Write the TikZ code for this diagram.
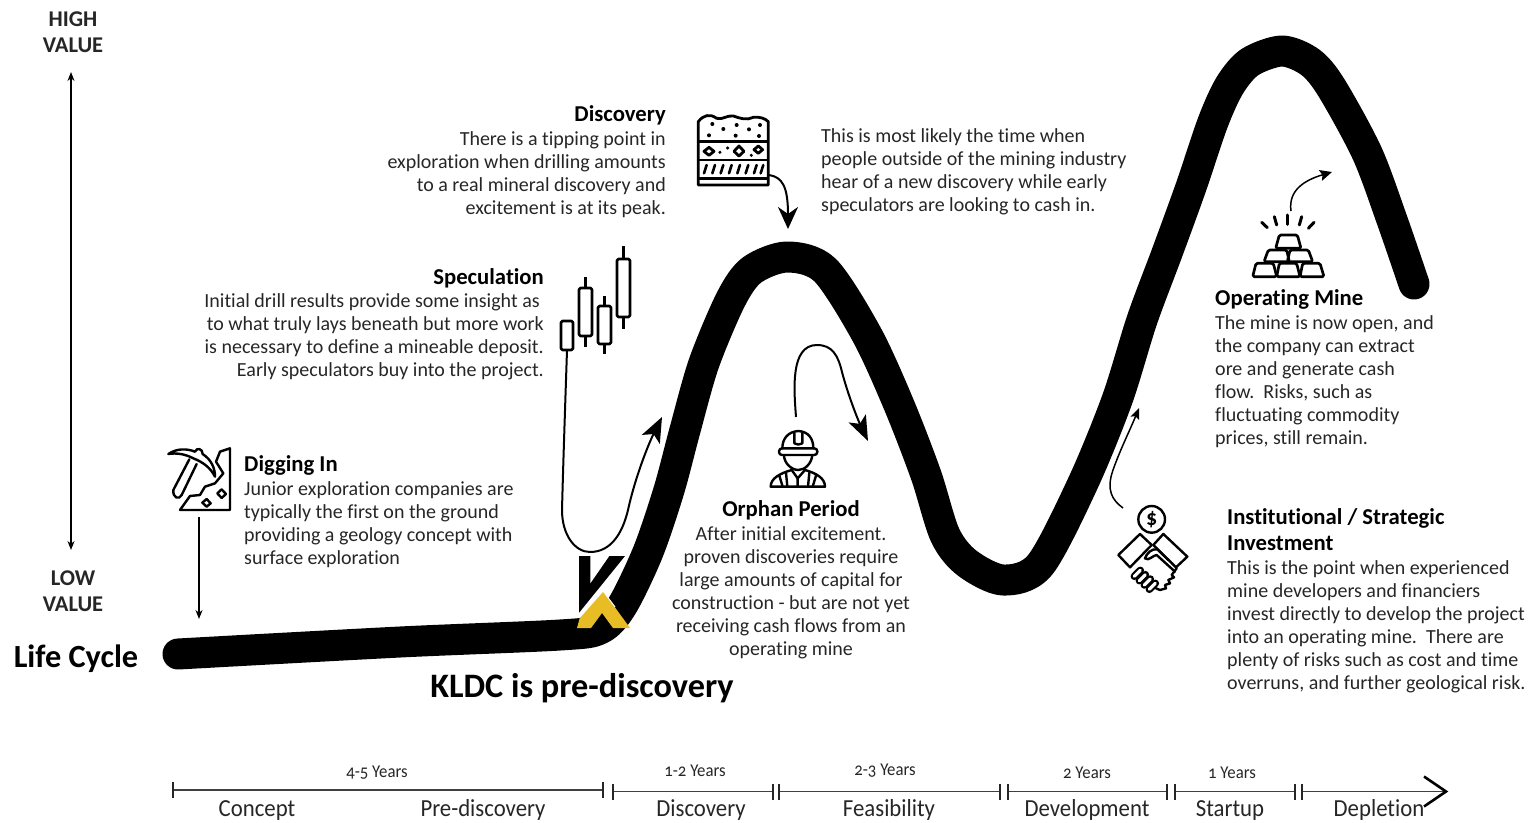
\documentclass[tikz,border=0pt]{standalone}
\usepackage{fontspec}
\setmainfont[Numbers=OldStyle,Ligatures=NoCommon]{Carlito}
\usetikzlibrary{arrows.meta}
\newcommand{\condensed}[1]{\scalebox{.93}[1]{#1}}
\tikzset{
  body/.style={inner sep=0pt,font=\fontsize{20}{23}\selectfont,text=black!85},
  ttl/.style={inner sep=0pt,font=\fontsize{22.7}{26}\bfseries\selectfont},
  val/.style={inner sep=0pt,align=center,font=\fontsize{22.5}{26.5}\bfseries\selectfont,text=black!85},
  yrs/.style={inner sep=0pt,anchor=base,font=\fontsize{18}{18}\selectfont,text=black!85},
  phase/.style={inner sep=0pt,anchor=base,font=\fontsize{24.5}{26}\selectfont,text=black!85},
  icon/.style={line width=2.4pt,line join=round,line cap=round},
  lead/.style={line width=1.3pt},
  bar/.style={line width=1.7pt,black!75},
  tick/.style={line width=2pt,black!85},
}
\begin{document}
\begin{tikzpicture}[x=1pt,y=-1pt]
\useasboundingbox (0,0) rectangle (1530,822);
% main life-cycle curve
\draw[line width=31pt,line cap=round,line join=round]
  plot[smooth,tension=0.5] coordinates {(178,654) (400,642) (560,635) (600,629) (622,606) (648,552) (669,490) (685,430) (704,363) (731,299) (752,270) (787,257) (825,270) (867,335) (899,405) (926,475) (945,535) (967,563) (1003,580) (1040,565) (1083,483) (1117,400) (1142,320) (1167,253) (1191,187) (1213,122) (1230,85) (1250,62) (1282,51) (1310,62) (1331,87) (1367,153) (1392,220) (1414,284)};
% K logo
\fill[draw=white,line width=1.5pt] (578,555)--(591,555)--(591,581)--(609,555)--(627,555)--(580,613)--(578,615)--cycle;
\fill[fill={rgb,255:red,232;green,188;blue,36}] (603,591)--(630,628)--(613,628)--(602,613)--(591,628)--(577,628)--(580,617)--cycle;
\draw[white,line width=1pt] (580,617)--(603,591)--(615,607);
% value axis
\coordinate (hi) at (71,72);
\coordinate (lo) at (71,550);
\draw[lead,{Stealth[length=9pt,width=7pt]}-{Stealth[length=9pt,width=7pt]}] (hi)--(lo);
\node[val] (high) at (73,32) {HIGH\\VALUE};
\node[val] (low) at (73,591) {LOW\\VALUE};
\node[inner sep=0pt,font=\fontsize{32.3}{34}\bfseries\selectfont] (life) at (76,658.5) {Life Cycle};
\node[inner sep=0pt,font=\fontsize{34.3}{38}\bfseries\selectfont] (kldc) at (582,688) {KLDC is pre-discovery};
% Digging in
\node[ttl,anchor=west] (digT) at (244,465.5) {Digging In};
\node[body,anchor=north west,align=left] (digB) at (244,481) {Junior exploration companies are\\typically the first on the ground\\providing a geology concept with\\surface exploration};
\begin{scope}[shift={(150,430)},x=0.3333pt,y=-0.3333pt]
\draw[icon] (90,240)--(240,240)--(240,55)--(210,65)--(198,95)--(220,130)--(195,160)--(165,170)--(150,195)--(120,198)--cycle;
\draw[icon] (55,72) .. controls (80,55) and (110,55) .. (135,65) .. controls (140,52) and (158,55) .. (158,72) .. controls (185,90) and (195,115) .. (195,140) .. controls (180,110) and (155,95) .. (130,85) .. controls (105,72) and (80,68) .. (55,72) -- cycle;
\draw[icon] (118,88) -- (70,180) .. controls (68,205) and (88,210) .. (95,195) -- (140,102);
\draw[icon] (170,207)--(182,220)--(170,230)--(157,218)--cycle;
\draw[icon] (215,178)--(228,192)--(215,204)--(202,190)--cycle;
\end{scope}
\coordinate (digS) at (199,517);
\coordinate (digE) at (199,619);
\draw[lead,-{Stealth[length=9pt,width=7pt]}] (digS)--(digE);
% Speculation
\node[ttl,anchor=east] (spT) at (544,278) {Speculation};
\node[body,anchor=north east,align=right] (spB) at (544,293) {Initial drill results provide some insight as\hspace*{4pt}\\to what truly lays beneath but more work\hspace*{4pt}\\is necessary to define a mineable deposit.\\Early speculators buy into the project.};
\begin{scope}[line width=2.6pt,line join=round]
\draw[rounded corners=1.5pt] (561,321) rectangle (573,350);
\draw[rounded corners=1.5pt] (579,288) rectangle (592,336);
\draw (585.5,277)--(585.5,288) (585.5,336)--(585.5,347);
\draw[rounded corners=1.5pt] (598,306) rectangle (611,344);
\draw (604.5,296)--(604.5,306) (604.5,344)--(604.5,354);
\draw[rounded corners=1.5pt] (617,259) rectangle (630,317);
\draw (623.5,246)--(623.5,259) (623.5,317)--(623.5,329);
\end{scope}
\coordinate (spS) at (567,350);
\coordinate (spE) at (662,417);
\draw[line width=2pt,-{Stealth[length=25pt,width=20pt,inset=6pt]}] (spS) .. controls (565,410) and (563,470) .. (562,510) .. controls (562,535) and (575,552) .. (590,552) .. controls (610,552) and (622,535) .. (628,510) .. controls (635,478) and (648,445) .. (spE);
% Discovery
\node[ttl,anchor=east] (diT) at (666,115.5) {Discovery};
\node[body,anchor=north east,align=right] (diB) at (666,131) {There is a tipping point in\\exploration when drilling amounts\\to a real mineral discovery and\\excitement is at its peak.};
\begin{scope}[shift={(540,90)},x=0.3333pt,y=-0.3333pt]
\draw[line width=2.8pt,line join=round] (475,285)--(475,95) .. controls (490,75) and (510,70) .. (530,85) .. controls (550,90) and (560,75) .. (580,78) .. controls (600,85) and (620,92) .. (640,82) .. controls (660,80) and (675,85) .. (685,95) -- (685,285)--cycle;
\draw[line width=2.8pt] (475,155)--(685,155) (475,210)--(685,210) (475,265)--(685,265);
\foreach \p in {(517,102),(550,117),(590,105),(627,118),(660,105),(507,136),(587,137),(657,138)} \fill \p circle[radius=6];
\draw[line width=2.8pt,line join=round] (507,172)--(522,184)--(507,196)--(492,184)--cycle (597,168)--(612,184)--(597,198)--(582,184)--cycle (655,168)--(668,179)--(655,190)--(642,179)--cycle;
\foreach \p in {(540,187),(563,174),(634,196)} \fill \p circle[radius=5];
\foreach \x in {492,517,542,567,592,617,642,662} \draw[line width=2.6pt,line cap=round] (\x,250)--(\x+8,225);
\end{scope}
\coordinate (dsS) at (769,175);
\coordinate (dsE) at (788,229);
\draw[line width=2pt,-{Stealth[length=22pt,width=20pt,inset=7pt]}] (dsS) .. controls (782,177) and (788,186) .. (dsE);
\node[body,anchor=north west,align=left] (hear) at (821,128) {This is most likely the time when\\people outside of the mining industry\\hear of a new discovery while early\\speculators are looking to cash in.};
% Orphan
\node[ttl] (orT) at (791,510) {Orphan Period};
\node[body,anchor=north,align=center] (orB) at (791,526) {After initial excitement.\\proven discoveries require\\large amounts of capital for\\construction - but are not yet\\receiving cash flows from an\\operating mine};
\begin{scope}[shift={(750,420)},x=0.3333pt,y=-0.3333pt,icon]
\draw (97,85) .. controls (97,55) and (115,35) .. (145,33) .. controls (175,35) and (190,55) .. (190,85);
\draw (133,70)--(133,38) (157,70)--(157,38) (133,70) .. controls (140,75) and (150,75) .. (157,70);
\draw[rounded corners=3pt] (87,85) rectangle (202,105);
\draw (102,105) .. controls (102,130) and (125,150) .. (145,150) .. controls (165,150) and (185,130) .. (187,105);
\draw (62,200) .. controls (62,175) and (90,160) .. (125,150) -- (143,175) -- (165,150) .. controls (200,160) and (225,175) .. (225,200) -- cycle;
\draw (143,175)--(143,200) (88,167)--(98,200) (108,158)--(112,200) (198,167)--(188,200) (178,158)--(174,200);
\end{scope}
\coordinate (orS) at (796,417);
\coordinate (orE) at (868,441);
\draw[line width=2pt,-{Stealth[length=25pt,width=19pt,inset=6pt]}] (orS) .. controls (794,390) and (790,345) .. (817,345) .. controls (832,345) and (838,355) .. (842,372) .. controls (848,395) and (858,420) .. (orE);
% Institutional
\node[ttl,anchor=north west,align=left] (inT) at (1227,508) {Institutional / Strategic\\Investment};
\node[body,anchor=north west,align=left] (inB) at (1227,560) {This is the point when experienced\\mine developers and financiers\\invest directly to develop the project\\into an operating mine.\ \ There are\\plenty of risks such as cost and time\\overruns, and further geological risk.};
\begin{scope}[shift={(1100,490)},x=0.3333pt,y=-0.3333pt,icon]
\draw (155,88) circle[radius=40];
\node[inner sep=0pt,font=\fontsize{22}{22}\bfseries\selectfont] (dollar) at (155,88) {\addfontfeature{Numbers=Lining}\$};
\draw (120,132)--(155,165)--(90,232)--(55,195)--cycle;
\draw (190,132)--(262,200)--(228,232)--(160,165)--cycle;
\draw (205,210)--(172,178) .. controls (155,175) and (140,190) .. (135,205) .. controls (145,215) and (160,195) .. (170,195) -- (225,245);
\foreach \cx/\cy in {112/250,127/263,142/276,157/289} {
  \draw[line width=7.5pt,line cap=round] (\cx+9,\cy-9)--(\cx-9,\cy+9);
}
\foreach \cx/\cy in {112/250,127/263,142/276,157/289} {
  \draw[white,line width=3.2pt,line cap=round] (\cx+9,\cy-9)--(\cx-9,\cy+9);
}
\draw (230,235)--(215,255)--(222,262)--(205,270)--(210,280)--(195,285)--(198,295)--(180,300)--(168,295);
\end{scope}
\coordinate (inS) at (1123,508);
\coordinate (inE) at (1139,408);
\draw[line width=1.5pt,-{Stealth[length=11pt,width=9pt,inset=2pt]}] (inS) .. controls (1112,500) and (1106,490) .. (1113,470) .. controls (1120,450) and (1130,430) .. (inE);
% Operating
\node[ttl,anchor=west] (opT) at (1215,299) {Operating Mine};
\node[body,anchor=north west,align=left] (opB) at (1215,315) {The mine is now open, and\\the company can extract\\ore and generate cash\\flow.\ \ Risks, such as\\fluctuating commodity\\prices, still remain.};
\begin{scope}[shift={(1240,165)},x=0.3333pt,y=-0.3333pt,icon]
\foreach \a/\b in {{(65,172)/(82,188)},{(103,155)/(110,180)},{(143,150)/(143,178)},{(185,155)/(178,180)},{(222,172)/(205,190)}} \draw[line width=3pt] \a--\b;
\begin{scope}[line width=2.7pt,rounded corners=1.5pt]
\draw (118,210)--(172,210)--(183,250)--(107,250)--cycle;
\draw (85,255)--(140,255)--(148,290)--(72,290)--cycle;
\draw (150,255)--(205,255)--(218,290)--(142,290)--cycle;
\draw (48,295)--(100,295)--(110,335)--(38,335)--cycle;
\draw (118,295)--(170,295)--(180,335)--(110,335)--cycle;
\draw (188,295)--(240,295)--(252,335)--(180,335)--cycle;
\end{scope}
\end{scope}
\coordinate (opS) at (1291,211);
\coordinate (opE) at (1332,172);
\draw[line width=1.5pt,-{Stealth[length=12pt,width=11pt,inset=2pt]}] (opS) .. controls (1288,190) and (1305,180) .. (opE);
% timeline
\coordinate (t0) at (173,790);
\coordinate (t1) at (603,790);
\coordinate (t2) at (613,791.5);
\coordinate (t3) at (773,791.5);
\coordinate (t4) at (779,791.5);
\coordinate (t5) at (1000,791.5);
\coordinate (t6) at (1008,791.5);
\coordinate (t7) at (1167,791.5);
\coordinate (t8) at (1175,791.5);
\coordinate (t9) at (1295,791.5);
\coordinate (t10) at (1302,791.5);
\coordinate (t11) at (1446,791.5);
\draw[bar] (t0)--(t1);
\foreach \a/\b in {t2/t3,t4/t5,t6/t7,t8/t9} \draw[bar,line width=1.4pt] (\a)--(\b);
\draw[bar,line width=1.4pt] (t10)--(t11);
\foreach \t in {t0,t1,t2,t3,t4,t5,t6,t7,t8,t9,t10} \draw[tick] ([yshift=-8pt]\t)--([yshift=8pt]\t);
\draw[line width=2.6pt] ([shift={(-22,-15)}]t11)--(t11)--([shift={(-22,15)}]t11);
\node[yrs] (y1) at (377,777) {\condensed{4-5 Years}};
\node[yrs] (y2) at (695,776) {\condensed{1-2 Years}};
\node[yrs] (y3) at (885,775) {\condensed{2-3 Years}};
\node[yrs] (y4) at (1087,778) {\condensed{2 Years}};
\node[yrs] (y5) at (1232,778) {\condensed{1 Years}};
\node[phase] (p1) at (257,816) {\condensed{Concept}};
\node[phase] (p2) at (483,816) {\condensed{Pre-discovery}};
\node[phase] (p3) at (701,816) {\condensed{Discovery}};
\node[phase] (p4) at (889,816) {\condensed{Feasibility}};
\node[phase] (p5) at (1087,816.5) {\condensed{Development}};
\node[phase] (p6) at (1230,816) {\condensed{Startup}};
\node[phase] (p7) at (1379,816) {\condensed{Depletion}};
\end{tikzpicture}
\end{document}
